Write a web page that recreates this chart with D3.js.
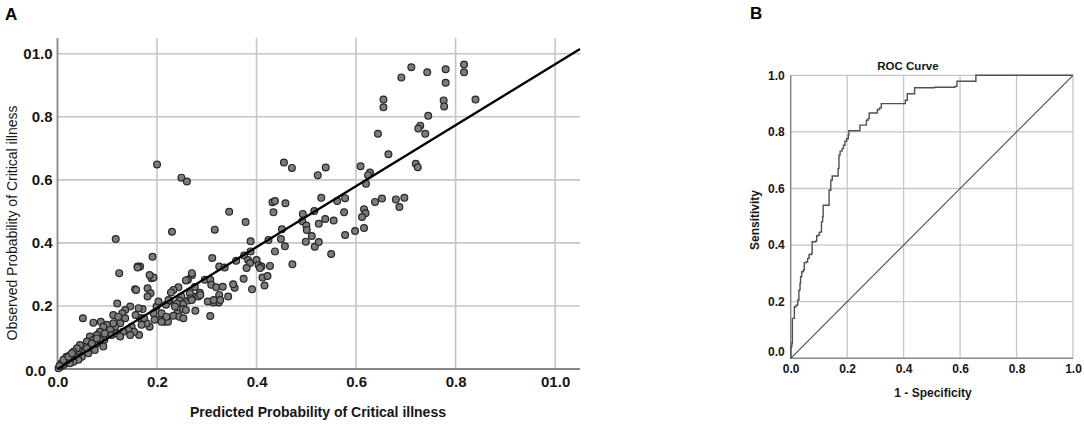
<!DOCTYPE html>
<html>
<head>
<meta charset="utf-8">
<script src="https://cdn.jsdelivr.net/npm/d3@7"></script>
<style>
  body { margin: 0; background: #fff; }
  text { font-family: "Liberation Sans", Arial, sans-serif; }
</style>
</head>
<body>
<div id="chart"></div>
<script>
// ---- data: panel A (calibration scatter) ----
var predicted = [
  0.200,0.249,0.260,0.345,0.455,0.471,0.523,0.539,0.609,0.432,0.437,0.458,0.434,0.493,0.516,0.530,0.562,0.578,0.576,0.538,0.555,
  0.817,0.817,0.711,0.743,0.780,0.780,0.691,0.655,0.655,0.776,0.777,0.840,0.745,0.729,0.725,0.644,0.739,0.665,0.720,0.724,
  0.628,0.624,0.620,0.638,0.652,0.680,0.697,0.687,0.616,0.619,0.612,0.578,0.598,0.616,
  0.492,0.500,0.501,0.525,0.511,0.499,0.517,0.525,0.550,
  0.230,0.316,0.378,0.451,0.388,0.449,0.457,0.424,0.437,0.472,0.388,0.375,0.359,0.311,0.191,0.325,0.336,0.383,0.387,0.380,
  0.400,0.404,0.410,0.407,0.427,0.412,0.422,0.416,0.391,0.374,0.356,0.353,0.343,
  0.270,0.262,0.276,0.296,0.307,0.309,0.319,0.332,0.325,0.324,0.313,0.302,0.307,0.277,0.286,0.273,0.266,0.243,0.233,0.228,
  0.249,0.245,0.240,0.253,0.236,0.252,0.241,0.233,0.245,0.253,0.263,0.268,0.225,0.218,0.215,0.222,0.206,0.193,0.195,0.185,
  0.189,0.193,0.185,0.181,0.187,0.181,0.166,0.171,0.166,
  0.179,0.174,0.209,0.219,0.209,0.199,0.203,0.223,0.258,0.270,0.283,0.258,0.270,0.287,0.314,0.327,
  0.117,0.124,0.120,0.051,0.072,0.087,0.161,0.161,0.156,0.158,0.163,0.157,0.164,0.146,0.136,0.130,0.136,0.126,0.116,0.112,
  0.149,0.154,0.142,0.132,0.099,0.106,0.092,0.085,0.095,0.079,0.109,0.119,0.126,
  0.065,0.072,0.059,0.052,0.065,0.045,0.055,0.039,0.035,0.029,0.022,0.018,0.012,0.006,0.002,0.092,0.094,0.079,0.075,0.062,
  0.049,0.042,0.032,0.025,0.045,0.039,0.032,0.025,0.018,0.015,0.008,0.004,0.012,0.022,0.029,0.059,0.069,0.085,0.079,
  0.112,0.122,0.146,0.169
];
var observed = [
  0.649,0.607,0.595,0.499,0.655,0.638,0.615,0.639,0.643,0.529,0.533,0.526,0.497,0.492,0.501,0.543,0.533,0.542,0.497,0.476,0.471,
  0.966,0.941,0.957,0.941,0.951,0.908,0.925,0.855,0.830,0.852,0.833,0.855,0.803,0.772,0.763,0.746,0.746,0.681,0.651,0.640,
  0.623,0.615,0.588,0.530,0.541,0.538,0.543,0.514,0.507,0.494,0.482,0.425,0.438,0.447,
  0.469,0.455,0.441,0.461,0.422,0.404,0.388,0.403,0.365,
  0.435,0.442,0.466,0.443,0.405,0.412,0.389,0.409,0.373,0.332,0.373,0.360,0.343,0.352,0.356,0.325,0.322,0.346,0.336,0.320,
  0.346,0.330,0.325,0.320,0.327,0.290,0.295,0.265,0.253,0.286,0.258,0.269,0.230,
  0.297,0.283,0.260,0.283,0.283,0.267,0.259,0.261,0.235,0.211,0.211,0.214,0.168,0.185,0.242,0.230,0.240,0.259,0.251,0.243,
  0.230,0.217,0.208,0.206,0.198,0.190,0.177,0.169,0.166,0.161,0.217,0.224,0.216,0.204,0.150,0.150,0.156,0.177,0.156,0.134,
  0.288,0.290,0.298,0.256,0.240,0.230,0.325,0.190,0.162,
  0.145,0.161,0.177,0.166,0.150,0.198,0.214,0.219,0.187,0.219,0.230,0.281,0.304,0.235,0.219,0.219,
  0.412,0.304,0.208,0.161,0.147,0.150,0.325,0.322,0.253,0.251,0.193,0.171,0.108,0.198,0.187,0.177,0.161,0.145,0.134,0.145,
  0.134,0.118,0.124,0.118,0.140,0.124,0.134,0.118,0.113,0.108,0.108,0.113,0.103,
  0.103,0.092,0.087,0.071,0.071,0.060,0.055,0.050,0.039,0.034,0.029,0.018,0.013,0.007,0.002,0.071,0.092,0.081,0.060,0.050,
  0.039,0.029,0.023,0.018,0.076,0.066,0.055,0.044,0.039,0.029,0.018,0.010,0.029,0.039,0.050,0.066,0.081,0.092,0.097,
  0.171,0.166,0.108,0.140
];
var fitLineX = [0, 1.05];
var fitLineY = [0, 1.015];
var ticksA = [0, 0.2, 0.4, 0.6, 0.8, 1.0];
var tickLabelsA = ["0.0", "0.2", "0.4", "0.6", "0.8", "01.0"];

// ---- data: panel B (ROC curve) ----
var fpr = [0, 0.001, 0.004, 0.006, 0.013, 0.019, 0.025, 0.029, 0.033, 0.035, 0.039, 0.045, 0.048, 0.056, 0.060, 0.065,
  0.074, 0.076, 0.088, 0.092, 0.098, 0.101, 0.107, 0.109, 0.113, 0.115, 0.136, 0.142, 0.147, 0.168, 0.171, 0.175,
  0.182, 0.187, 0.192, 0.198, 0.204, 0.206, 0.245, 0.268, 0.274, 0.278, 0.307, 0.315, 0.321, 0.406, 0.413, 0.439,
  0.509, 0.582, 0.589, 0.656, 1.0];
var tpr = [0, 0.041, 0.053, 0.141, 0.182, 0.188, 0.206, 0.241, 0.265, 0.288, 0.306, 0.312, 0.338, 0.341, 0.353, 0.367,
  0.371, 0.412, 0.414, 0.433, 0.435, 0.445, 0.447, 0.482, 0.500, 0.541, 0.594, 0.629, 0.644, 0.671, 0.718, 0.732,
  0.741, 0.753, 0.767, 0.776, 0.788, 0.804, 0.824, 0.841, 0.847, 0.867, 0.879, 0.885, 0.900, 0.912, 0.935, 0.956,
  0.958, 0.961, 0.979, 1.0, 1.0];
var ticksB = [0, 0.2, 0.4, 0.6, 0.8, 1.0];

var gridColor = "#c6c6c6";
var axisColor = "#878787";
var textColor = "#161616";

var svg = d3.select("#chart").append("svg")
    .attr("width", 1084)
    .attr("height", 430);

// ================= Panel A =================
var xA = d3.scaleLinear().domain([0, 1.05]).range([57.5, 580]);
var yA = d3.scaleLinear().domain([0, 1.05]).range([369, 38]);

var gA = svg.append("g");

gA.selectAll(".vgrid").data(ticksA.slice(1)).enter().append("line")
    .attr("x1", d => xA(d)).attr("x2", d => xA(d))
    .attr("y1", yA(1.05)).attr("y2", yA(0))
    .attr("stroke", gridColor).attr("stroke-width", 1.6);
gA.selectAll(".hgrid").data(ticksA.slice(1)).enter().append("line")
    .attr("x1", xA(0)).attr("x2", xA(1.05))
    .attr("y1", d => yA(d)).attr("y2", d => yA(d))
    .attr("stroke", gridColor).attr("stroke-width", 1.6);

gA.append("line")
    .attr("x1", xA(0)).attr("x2", xA(0)).attr("y1", yA(1.05)).attr("y2", yA(0))
    .attr("stroke", axisColor).attr("stroke-width", 1.8);
gA.append("line")
    .attr("x1", xA(0)).attr("x2", xA(1.05)).attr("y1", yA(0)).attr("y2", yA(0))
    .attr("stroke", axisColor).attr("stroke-width", 1.8);

var axisLeftA = gA.append("g")
    .attr("transform", "translate(" + xA(0) + ",0)")
    .call(d3.axisLeft(yA).tickValues(ticksA).tickSize(0).tickPadding(5)
        .tickFormat((d, i) => tickLabelsA[i]));
var axisBottomA = gA.append("g")
    .attr("transform", "translate(0," + yA(0) + ")")
    .call(d3.axisBottom(xA).tickValues(ticksA).tickSize(0).tickPadding(7)
        .tickFormat((d, i) => tickLabelsA[i]));
[axisLeftA, axisBottomA].forEach(function(ax) {
    ax.select(".domain").remove();
    ax.selectAll("text")
        .style("font-size", "15px")
        .style("font-weight", "bold")
        .style("font-family", "'Liberation Sans', Arial, sans-serif")
        .attr("fill", textColor);
});
// the corner "0.0" of the y axis sits just left of the x axis "0.0"
axisLeftA.selectAll("text").filter(d => d === 0)
    .attr("dy", "0.4em").attr("x", -11.5);

var pts = predicted.map((p, i) => ({ p: p, o: observed[i] }));
gA.selectAll(".pt").data(pts).enter().append("circle")
    .attr("cx", d => xA(d.p))
    .attr("cy", d => yA(d.o))
    .attr("r", 3.4)
    .attr("fill", "#7c7c7c")
    .attr("stroke", "#262626")
    .attr("stroke-width", 1.2);

gA.append("line")
    .attr("x1", xA(fitLineX[0])).attr("y1", yA(fitLineY[0]))
    .attr("x2", xA(fitLineX[1])).attr("y2", yA(fitLineY[1]))
    .attr("stroke", "#000").attr("stroke-width", 2.3);

gA.append("text")
    .attr("x", 318).attr("y", 417)
    .attr("text-anchor", "middle")
    .style("font-size", "14px").style("font-weight", "bold")
    .attr("fill", textColor)
    .text("Predicted Probability of Critical illness");

gA.append("text")
    .attr("transform", "translate(17,223) rotate(-90)")
    .attr("text-anchor", "middle")
    .style("font-size", "14px")
    .attr("fill", textColor)
    .text("Observed Probability of Critical illness");

svg.append("text")
    .attr("x", 5).attr("y", 20)
    .style("font-size", "17px").style("font-weight", "bold")
    .text("A");

// ================= Panel B =================
var xB = d3.scaleLinear().domain([0, 1]).range([790.7, 1073]);
var yB = d3.scaleLinear().domain([0, 1]).range([358.3, 75.3]);

var gB = svg.append("g");

gB.selectAll(".vgridB").data(ticksB.slice(1)).enter().append("line")
    .attr("x1", d => xB(d)).attr("x2", d => xB(d))
    .attr("y1", yB(1)).attr("y2", yB(0))
    .attr("stroke", gridColor).attr("stroke-width", 1.3);
gB.selectAll(".hgridB").data(ticksB.slice(1)).enter().append("line")
    .attr("x1", xB(0)).attr("x2", xB(1))
    .attr("y1", d => yB(d)).attr("y2", d => yB(d))
    .attr("stroke", gridColor).attr("stroke-width", 1.3);

gB.append("line")
    .attr("x1", xB(0)).attr("x2", xB(0)).attr("y1", yB(1)).attr("y2", yB(0))
    .attr("stroke", axisColor).attr("stroke-width", 1.5);
gB.append("line")
    .attr("x1", xB(0)).attr("x2", xB(1)).attr("y1", yB(0)).attr("y2", yB(0))
    .attr("stroke", axisColor).attr("stroke-width", 1.5);

var axisLeftB = gB.append("g")
    .attr("transform", "translate(" + xB(0) + ",0)")
    .call(d3.axisLeft(yB).tickValues(ticksB).tickSize(0).tickPadding(6).tickFormat(d3.format(".1f")));
var axisBottomB = gB.append("g")
    .attr("transform", "translate(0," + yB(0) + ")")
    .call(d3.axisBottom(xB).tickValues(ticksB).tickSize(0).tickPadding(6).tickFormat(d3.format(".1f")));
[axisLeftB, axisBottomB].forEach(function(ax) {
    ax.select(".domain").remove();
    ax.selectAll("text")
        .style("font-size", "12px")
        .style("font-weight", "bold")
        .style("font-family", "'Liberation Sans', Arial, sans-serif")
        .attr("fill", textColor);
});
axisLeftB.selectAll("text").filter(d => d === 0).attr("dy", "-0.2em");

// reference diagonal
gB.append("line")
    .attr("x1", xB(0)).attr("y1", yB(0))
    .attr("x2", xB(1)).attr("y2", yB(1))
    .attr("stroke", "#4a4a4a").attr("stroke-width", 1.1);

var roc = fpr.map((f, i) => [f, tpr[i]]);
gB.append("path")
    .datum(roc)
    .attr("fill", "none")
    .attr("stroke", "#505050")
    .attr("stroke-width", 1.4)
    .attr("d", d3.line().x(d => xB(d[0])).y(d => yB(d[1])).curve(d3.curveStepAfter));

gB.append("text")
    .attr("x", 908).attr("y", 70)
    .attr("text-anchor", "middle")
    .style("font-size", "11.5px").style("font-weight", "bold")
    .attr("fill", textColor)
    .text("ROC Curve");

gB.append("text")
    .attr("x", 933).attr("y", 397)
    .attr("text-anchor", "middle")
    .style("font-size", "12px").style("font-weight", "bold")
    .attr("fill", textColor)
    .text("1 - Specificity");

gB.append("text")
    .attr("transform", "translate(759,220) rotate(-90)")
    .attr("text-anchor", "middle")
    .style("font-size", "12px").style("font-weight", "bold")
    .attr("fill", textColor)
    .text("Sensitivity");

svg.append("text")
    .attr("x", 750).attr("y", 19)
    .style("font-size", "17px").style("font-weight", "bold")
    .text("B");
</script>
</body>
</html>
